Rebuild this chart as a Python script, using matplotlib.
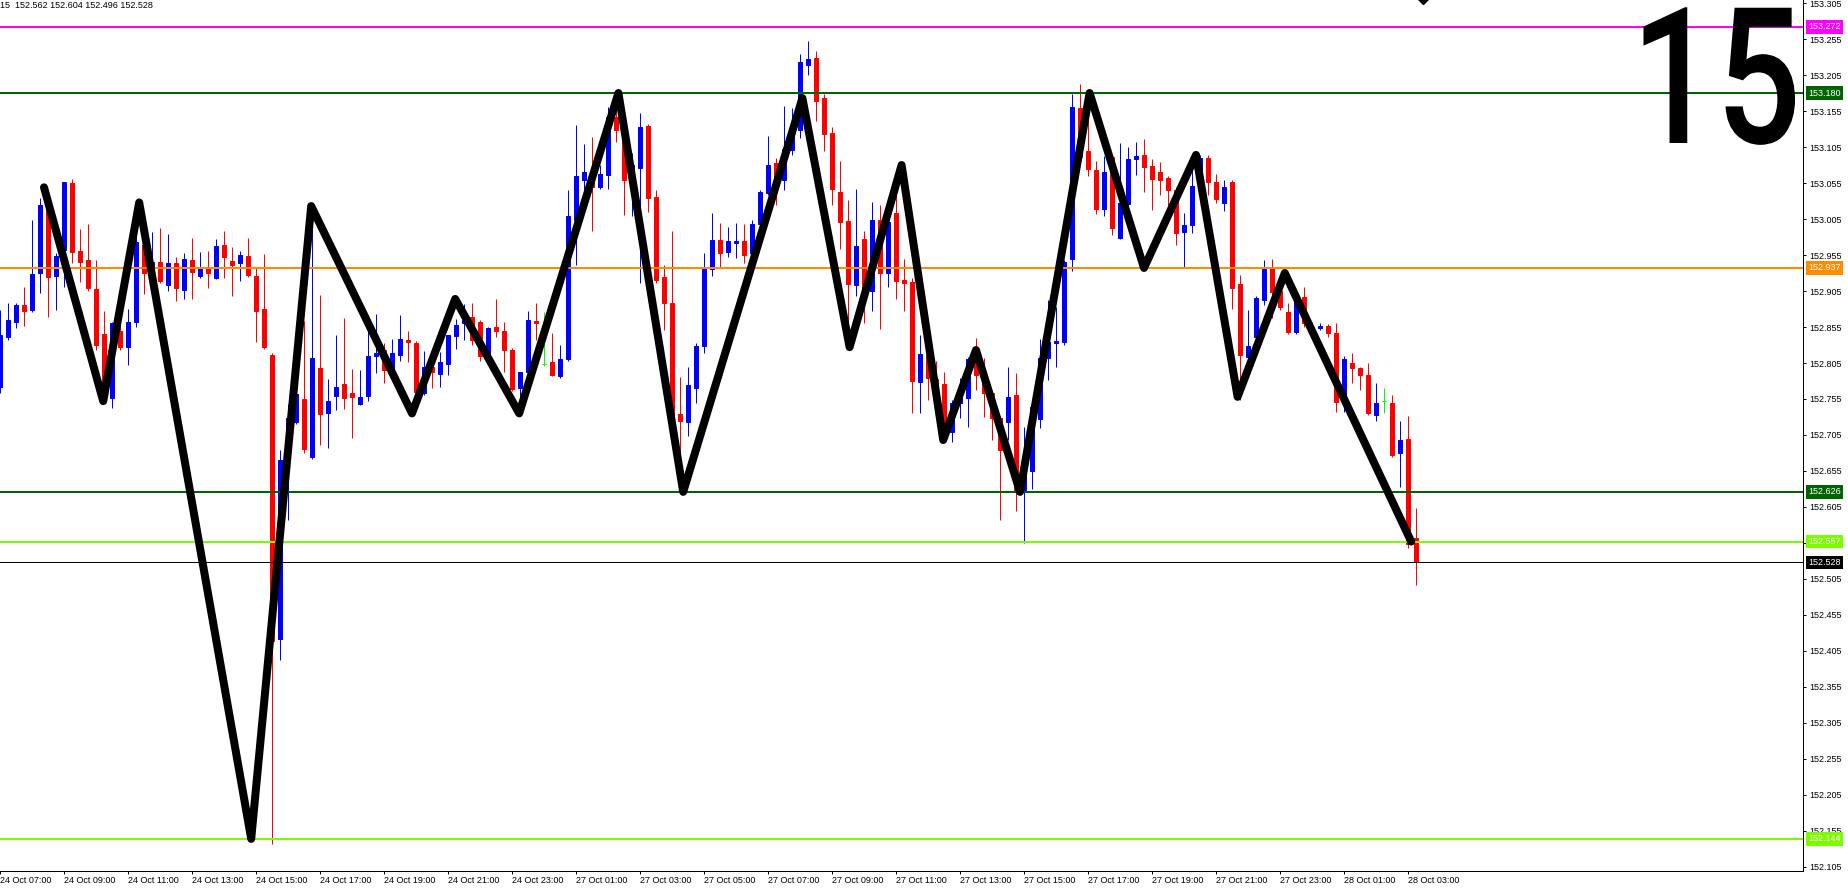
import matplotlib
matplotlib.use("Agg")
import matplotlib.pyplot as plt
from matplotlib import patheffects
from matplotlib.transforms import Affine2D

plt.rcParams["font.family"] = ["Liberation Sans", "DejaVu Sans"]

# 15-minute OHLC bars, oldest first (bar 0 = 24 Oct 07:00)
opens = [
    152.772, 152.841, 152.862, 152.885, 152.878, 152.930, 153.017, 152.926, 152.962, 153.055,
    152.960, 152.948, 152.908, 152.845, 152.756, 152.849, 152.827, 152.862, 152.969, 152.938,
    152.945, 152.913, 152.944, 152.906, 152.948, 152.926, 152.937, 152.923, 152.969, 152.946,
    152.944, 152.953, 152.926, 152.880, 152.816, 152.421, 152.670, 152.723, 152.755, 152.674,
    152.798, 152.735, 152.759, 152.776, 152.763, 152.748, 152.759, 152.815, 152.823, 152.795,
    152.816, 152.837, 152.833, 152.763, 152.799, 152.790, 152.803, 152.842, 152.860, 152.869,
    152.862, 152.812, 152.855, 152.849, 152.823, 152.770, 152.792, 152.863, 152.803, 152.806,
    152.787, 152.810, 153.003, 153.059, 153.070, 153.049, 153.066, 153.147, 153.128, 153.059,
    153.076, 153.134, 153.035, 152.924, 152.888, 152.734, 152.723, 152.770, 152.828, 152.935,
    152.976, 152.959, 152.971, 152.974, 152.958, 152.998, 153.041, 153.083, 153.059, 153.101,
    153.128, 153.219, 153.228, 153.173, 153.124, 153.042, 153.002, 152.913, 152.977, 152.905,
    153.003, 152.930, 153.013, 152.920, 152.917, 152.778, 152.816, 152.783, 152.776, 152.709,
    152.749, 152.756, 152.806, 152.788, 152.763, 152.728, 152.723, 152.760, 152.629, 152.655,
    152.727, 152.812, 152.833, 152.834, 152.949, 153.159, 153.099, 153.073, 153.019, 153.091,
    152.978, 153.026, 153.088, 153.094, 153.078, 153.070, 153.062, 153.045, 152.987, 152.996,
    153.052, 153.090, 153.056, 153.027, 153.056, 152.915, 152.813, 152.841, 152.892, 152.937,
    152.905, 152.876, 152.848, 152.897, 152.855, 152.853, 152.856, 152.847, 152.760, 152.805,
    152.798, 152.788, 152.733, 152.752, 152.749, 152.680, 152.699, 152.562,
]
highs = [
    152.878, 152.888, 152.888, 152.910, 153.003, 153.034, 153.045, 152.958, 153.056, 153.060,
    152.991, 152.998, 152.948, 152.877, 152.862, 152.865, 152.880, 152.987, 152.978, 152.987,
    152.992, 152.984, 152.952, 152.958, 152.978, 152.959, 152.960, 152.977, 152.988, 152.966,
    152.960, 152.978, 152.937, 152.956, 152.819, 152.684, 152.748, 152.762, 152.863, 153.023,
    152.899, 152.783, 152.844, 152.867, 152.797, 152.795, 152.872, 152.873, 152.833, 152.838,
    152.872, 152.849, 152.835, 152.822, 152.809, 152.820, 152.844, 152.866, 152.887, 152.888,
    152.865, 152.855, 152.894, 152.862, 152.826, 152.793, 152.877, 152.888, 152.876, 152.847,
    152.830, 153.045, 153.135, 153.109, 153.119, 153.080, 153.160, 153.177, 153.149, 153.097,
    153.152, 153.137, 153.045, 152.941, 152.988, 152.785, 152.799, 152.833, 152.958, 153.013,
    152.999, 152.994, 152.999, 152.998, 153.003, 153.045, 153.120, 153.090, 153.162, 153.159,
    153.234, 153.252, 153.238, 153.178, 153.133, 153.085, 153.031, 153.047, 152.988, 153.028,
    153.024, 153.017, 153.074, 152.949, 152.923, 152.844, 152.830, 152.808, 152.792, 152.753,
    152.784, 152.813, 152.840, 152.812, 152.767, 152.731, 152.799, 152.791, 152.716, 152.746,
    152.838, 152.892, 152.883, 152.948, 153.178, 153.192, 153.185, 153.085, 153.092, 153.094,
    153.110, 153.105, 153.112, 153.116, 153.088, 153.084, 153.065, 153.049, 153.013, 153.091,
    153.094, 153.094, 153.067, 153.059, 153.059, 152.927, 152.878, 152.898, 152.948, 152.949,
    152.924, 152.888, 152.906, 152.910, 152.862, 152.860, 152.859, 152.860, 152.815, 152.819,
    152.799, 152.805, 152.777, 152.770, 152.760, 152.724, 152.731, 152.604,
]
lows = [
    152.763, 152.837, 152.853, 152.856, 152.876, 152.902, 152.869, 152.878, 152.910, 152.944,
    152.917, 152.905, 152.823, 152.756, 152.742, 152.823, 152.802, 152.855, 152.901, 152.913,
    152.916, 152.905, 152.891, 152.894, 152.894, 152.923, 152.909, 152.921, 152.923, 152.898,
    152.919, 152.924, 152.834, 152.824, 152.137, 152.392, 152.587, 152.720, 152.680, 152.671,
    152.691, 152.687, 152.740, 152.741, 152.701, 152.746, 152.752, 152.791, 152.777, 152.792,
    152.808, 152.806, 152.740, 152.760, 152.770, 152.772, 152.788, 152.824, 152.837, 152.830,
    152.808, 152.809, 152.841, 152.792, 152.766, 152.740, 152.790, 152.837, 152.801, 152.787,
    152.784, 152.808, 152.941, 153.031, 152.988, 153.047, 153.047, 153.112, 153.010, 153.009,
    152.916, 153.015, 152.916, 152.851, 152.719, 152.626, 152.703, 152.749, 152.819, 152.926,
    152.938, 152.952, 152.951, 152.944, 152.955, 152.995, 153.038, 153.024, 153.045, 153.094,
    153.117, 153.205, 153.141, 153.099, 153.024, 152.963, 152.830, 152.898, 152.860, 152.877,
    152.852, 152.910, 152.894, 152.877, 152.735, 152.735, 152.753, 152.758, 152.702, 152.695,
    152.728, 152.716, 152.767, 152.730, 152.698, 152.587, 152.698, 152.599, 152.555, 152.630,
    152.715, 152.781, 152.799, 152.830, 152.933, 153.087, 153.065, 153.012, 153.009, 152.983,
    152.977, 153.023, 153.066, 153.042, 153.017, 153.038, 153.024, 152.969, 152.938, 152.985,
    153.045, 153.038, 153.027, 153.016, 152.880, 152.753, 152.809, 152.830, 152.885, 152.867,
    152.878, 152.845, 152.845, 152.855, 152.851, 152.851, 152.841, 152.737, 152.737, 152.777,
    152.767, 152.733, 152.724, 152.735, 152.674, 152.633, 152.548, 152.496,
]
closes = [
    152.844, 152.865, 152.885, 152.877, 152.928, 153.024, 152.924, 152.953, 153.056, 152.959,
    152.945, 152.909, 152.830, 152.777, 152.860, 152.827, 152.862, 152.973, 152.930, 152.945,
    152.919, 152.944, 152.909, 152.949, 152.931, 152.937, 152.930, 152.967, 152.952, 152.941,
    152.955, 152.927, 152.877, 152.827, 152.419, 152.670, 152.728, 152.762, 152.685, 152.812,
    152.734, 152.752, 152.772, 152.756, 152.758, 152.758, 152.815, 152.819, 152.795, 152.819,
    152.838, 152.834, 152.765, 152.799, 152.792, 152.806, 152.844, 152.858, 152.865, 152.837,
    152.815, 152.853, 152.849, 152.823, 152.769, 152.792, 152.865, 152.860, 152.803, 152.788,
    152.810, 153.009, 153.065, 153.070, 153.049, 153.067, 153.147, 153.128, 153.059, 153.080,
    153.133, 153.034, 152.920, 152.888, 152.730, 152.724, 152.774, 152.828, 152.937, 152.976,
    152.958, 152.974, 152.974, 152.955, 152.998, 153.042, 153.080, 153.059, 153.102, 153.131,
    153.223, 153.227, 153.169, 153.123, 153.047, 153.001, 152.915, 152.967, 152.908, 153.003,
    152.930, 153.001, 152.919, 152.916, 152.780, 152.817, 152.784, 152.776, 152.708, 152.749,
    152.756, 152.810, 152.788, 152.763, 152.728, 152.684, 152.758, 152.629, 152.649, 152.744,
    152.812, 152.834, 152.836, 152.945, 153.160, 153.091, 153.074, 153.019, 153.070, 152.992,
    153.027, 153.088, 153.092, 153.077, 153.060, 153.059, 153.045, 152.985, 152.996, 153.051,
    153.090, 153.056, 153.033, 153.049, 152.909, 152.816, 152.828, 152.895, 152.935, 152.903,
    152.883, 152.848, 152.897, 152.860, 152.853, 152.856, 152.847, 152.751, 152.810, 152.798,
    152.788, 152.735, 152.749, 152.752, 152.677, 152.698, 152.553, 152.528,
]

# ZigZag turning points (bar position, price)
zz_bar = [5.5, 12.9, 17.4, 31.4, 38.9, 51.5, 56.9, 64.9, 77.3, 85.4, 100.3,
          106.2, 112.7, 117.9, 122.0, 127.5, 136.2, 143.0, 149.5, 154.7, 160.6, 176.4]
zz_price = [153.049, 152.752, 153.028, 152.144, 153.023, 152.735, 152.894, 152.735,
            153.180, 152.626, 153.173, 152.827, 153.080, 152.698, 152.823, 152.626,
            153.180, 152.937, 153.094, 152.758, 152.930, 152.557]

# horizontal levels drawn on the chart
levels = [153.272, 153.180, 152.937, 152.626, 152.557, 152.144]
level_colors = ["#ff00ff", "#006400", "#ff8c00", "#006400", "#7cfc00", "#7cfc00"]
bid = 152.528

# axis labels
time_labels = ["24 Oct 07:00", "24 Oct 09:00", "24 Oct 11:00", "24 Oct 13:00", "24 Oct 15:00",
               "24 Oct 17:00", "24 Oct 19:00", "24 Oct 21:00", "24 Oct 23:00", "27 Oct 01:00",
               "27 Oct 03:00", "27 Oct 05:00", "27 Oct 07:00", "27 Oct 09:00", "27 Oct 11:00",
               "27 Oct 13:00", "27 Oct 15:00", "27 Oct 17:00", "27 Oct 19:00", "27 Oct 21:00",
               "27 Oct 23:00", "28 Oct 01:00", "28 Oct 03:00"]
time_label_bars = [0, 8, 16, 24, 32, 40, 48, 56, 64, 72, 80, 88, 96, 104, 112, 120,
                   128, 136, 144, 152, 160, 168, 176]
price_ticks = [153.305, 153.255, 153.205, 153.155, 153.105, 153.055, 153.005, 152.955,
               152.905, 152.855, 152.805, 152.755, 152.705, 152.655, 152.605, 152.555,
               152.505, 152.455, 152.405, 152.355, 152.305, 152.255, 152.205, 152.155,
               152.105]

# a small arrow object sitting at the very top of the window
arrow_bar, arrow_price = 177.9, 153.311


class Squeeze(patheffects.AbstractPathEffect):
    """Narrow the glyphs horizontally around a fixed x (display pixels)."""

    def __init__(self, sx, x0):
        super().__init__()
        self.sx, self.x0 = sx, x0

    def draw_path(self, renderer, gc, tpath, affine, rgbFace=None):
        squeeze = Affine2D().translate(-self.x0, 0).scale(self.sx, 1).translate(self.x0, 0)
        renderer.draw_path(gc, tpath, affine + squeeze, rgbFace)


W, H = 1848, 891
fig = plt.figure(figsize=(W / 100, H / 100), dpi=100)
ax = fig.add_axes([0, 20 / H, 1803 / W, 871 / H])
ax.set_xlim(0, 1803 / 8)
ax.set_ylim(152.0994, 153.3092)

px = 0.72  # one pixel in points

n = len(opens)
xs = list(range(n))
colors = []
for o, c in zip(opens, closes):
    if c > o:
        colors.append("#0000ff")
    elif c < o:
        colors.append("#ff0000")
    else:
        colors.append("#00ff00")

ax.vlines(xs, lows, highs, colors=colors, linewidth=px, zorder=2)
bottoms = [min(o, c) for o, c in zip(opens, closes)]
heights = [abs(c - o) for o, c in zip(opens, closes)]
ax.bar(xs, heights, bottom=bottoms, width=0.5, color=colors, edgecolor=colors,
       linewidth=px, zorder=3)

for lv, col in zip(levels, level_colors):
    ax.axhline(lv, color=col, linewidth=2 * px, zorder=4)
ax.axhline(bid, color="black", linewidth=px, zorder=4)

ax.plot(zz_bar, zz_price, color="black", linewidth=8 * px, solid_joinstyle="round",
        solid_capstyle="round", zorder=5)

ax.plot([arrow_bar], [arrow_price], marker="D", markersize=7 * px, color="black", zorder=6)

# spines / axes
for side in ["left", "top"]:
    ax.spines[side].set_visible(False)
for side in ["right", "bottom"]:
    ax.spines[side].set_linewidth(px)
ax.yaxis.tick_right()
ax.set_yticks(price_ticks, labels=[f"{t:.3f}" for t in price_ticks])
ax.tick_params(axis="y", direction="out", length=3 * px, width=px, pad=3 * px,
               labelsize=6.5, right=True, left=False)
ax.set_xticks(time_label_bars, labels=time_labels)
ax.tick_params(axis="x", direction="out", length=3 * px, width=px, pad=2 * px,
               labelsize=6.5)
for lbl in ax.get_xticklabels():
    lbl.set_horizontalalignment("left")

# price boxes on the right scale
tr = ax.get_yaxis_transform()
for lv, col in zip(levels + [bid], level_colors + ["black"]):
    ax.text(1 + 5 / 1803, lv, f"{lv:.3f}", transform=tr, ha="left", va="center",
            color="white", fontsize=6.5, zorder=10, clip_on=False,
            bbox=dict(boxstyle="square,pad=0.25", fc=col, ec="none"))

# header and timeframe watermark
fig.text(0.5 / W, 1 - 6 / H, "15  152.562 152.604 152.496 152.528", ha="left",
         va="center", fontsize=6.5, color="black")
fig.text(1801 / W, 1 - 143 / H, "15", ha="right", va="baseline", fontsize=137,
         color="black", family=["Roboto", "Liberation Sans"], fontweight="medium",
         path_effects=[Squeeze(0.785, 1801)])

fig.savefig("out.png", dpi=100, facecolor="white")
